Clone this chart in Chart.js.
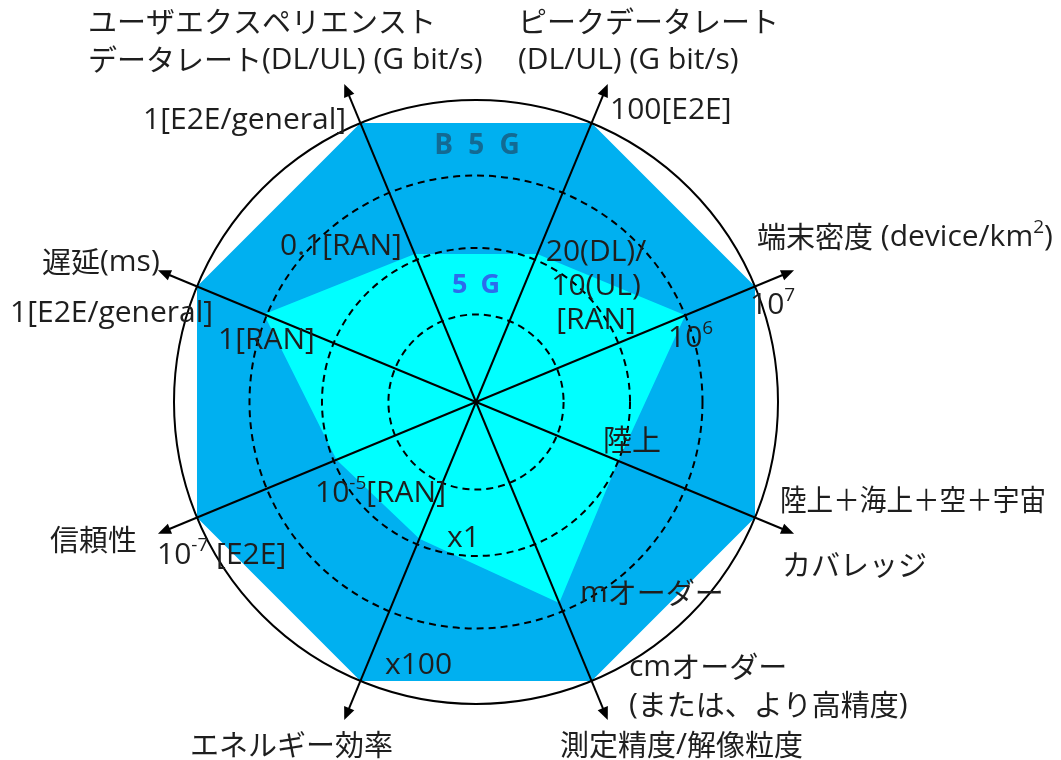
<!DOCTYPE html>
<html><head><meta charset="utf-8">
<script src="https://cdn.jsdelivr.net/npm/chart.js@4/dist/chart.umd.min.js"></script>
<style>html,body{margin:0;padding:0;background:#fff;overflow:hidden}canvas{display:block}</style>
</head><body>
<canvas id="c" width="1061" height="760"></canvas>
<script>
// ---- data ----
const categories = ["ユーザエクスペリエンストデータレート", "ピークデータレート", "端末密度", "カバレッジ", "測定精度/解像粒度", "エネルギー効率", "信頼性", "遅延"];
const seriesNames = ["B 5 G", "5 G"];
const b5gValues = [100, 100, 100, 100, 100, 100, 100, 100];
const g5Values = [53, 53, 75, 51, 72, 49, 50, 76];
const gridLevels = [0, 29, 51, 75, 100];
const axisTitles = [
  ["ユーザエクスペリエンスト", "データレート(DL/UL) (G bit/s)"],
  ["ピークデータレート", "(DL/UL) (G bit/s)"],
  ["端末密度 (device/km^{2})"],
  ["カバレッジ"],
  ["測定精度/解像粒度"],
  ["エネルギー効率"],
  ["信頼性"],
  ["遅延(ms)"]
];
const b5gTickLabels = [["1[E2E/general]"], ["100[E2E]"], ["10^{7}"], ["陸上＋海上＋空＋宇宙"], ["cmオーダー", "(または、より高精度)"], ["x100"], ["10^{-7} [E2E]"], ["1[E2E/general]"]];
const g5TickLabels = [["0.1[RAN]"], ["20(DL)/", "10(UL)", "[RAN]"], ["10^{6}"], ["陸上"], ["mオーダー"], ["x1"], ["10^{-5}[RAN]"], ["1[RAN]"]];

// ---- layout (offsets from radar centre, px) ----
const axisTitlePos = [[-388,-380],[42,-380],[281,-165],[306,163],[84,343],[-286,343],[-426,138],[-434,-140]];
const b5gTickPos = [[-333,-282],[134,-292],[274,-97],[304,98],[153,265],[-91,263],[-319,153],[-466,-89]];
const b5gTickMaxW = [0,0,0,266,0,0,0,0];
const g5TickPos = [[-196,-156],[120,-150],[192,-64],[127,38],[104,191],[-29,136],[-161,91],[-258,-62]];
const g5TickAlign = ["left","center","left","left","left","left","left","left"];
const seriesNamePos = [[0,-256],[0,-117]];
const LATIN = "'Open Sans',sans-serif";
const CJK = "'Noto Sans CJK JP',sans-serif";
const FS_LAT = 30, FS_CJK = 29, LH = 38;
const cjkRe = /[\u3000-\u30ff\u3400-\u9fff\uff00-\uffef]/;

function parseRich(s){
  const out=[]; const re=/\^\{([^}]*)\}/g; let last=0,m;
  const push=(t,sup)=>{
    let cur='', curC=null;
    for(const ch of t){ const c=cjkRe.test(ch); if(curC===null||c===curC){cur+=ch;curC=c;} else {out.push({t:cur,sup,cjk:curC}); cur=ch; curC=c;} }
    if(cur) out.push({t:cur,sup,cjk:curC});
  };
  while((m=re.exec(s))){ if(m.index>last) push(s.slice(last,m.index),false); push(m[1],true); last=re.lastIndex; }
  if(last<s.length) push(s.slice(last),false);
  return out;
}
function drawRich(ctx, s, x, y, align, color, maxW){
  const segs=parseRich(s);
  const fontOf=g=>{ const base=g.cjk?FS_CJK:FS_LAT; const sz=g.sup?Math.round(FS_LAT*0.62):base; return `400 ${sz}px ${g.cjk?CJK:LATIN}`; };
  ctx.save();
  ctx.letterSpacing="0px";
  let w=0; segs.forEach(g=>{ctx.font=fontOf(g); g.w=ctx.measureText(g.t).width; w+=g.w;});
  const k = (maxW && w>maxW) ? maxW/w : 1;
  let sx = align==="center"? x-w*k/2 : x;
  ctx.translate(sx, y); ctx.scale(k,1);
  ctx.fillStyle=color; ctx.textBaseline="middle"; ctx.textAlign="left";
  let cx=0;
  segs.forEach(g=>{ctx.font=fontOf(g); ctx.fillText(g.t,cx,g.sup? -FS_LAT*0.3 : 0); cx+=g.w;});
  ctx.restore();
}
function drawTitle(ctx, s, x, y, size, spacing, color){
  ctx.save();
  ctx.font=`700 ${size}px ${LATIN}`; ctx.fillStyle=color; ctx.textBaseline="middle"; ctx.textAlign="left";
  ctx.letterSpacing=spacing+"px";
  const w=ctx.measureText(s).width - spacing;
  ctx.fillText(s, x-w/2, y);
  ctx.letterSpacing="0px";
  ctx.restore();
}

const overlay = {
  id:'overlay',
  afterDraw(chart){
    const ctx=chart.ctx, sc=chart.scales.r;
    const cx=sc.xCenter, cy=sc.yCenter, R=sc.drawingArea;
    ctx.save();
    ctx.strokeStyle="#000"; ctx.fillStyle="#000"; ctx.lineWidth=2;
    categories.forEach((c,i)=>{
      const tip=sc.getPointPosition(i, R*1.14);
      const ang=Math.atan2(tip.y-cy, tip.x-cx);
      const L=13, H=5.5;
      ctx.beginPath(); ctx.moveTo(cx,cy);
      ctx.lineTo(tip.x-Math.cos(ang)*L*0.8, tip.y-Math.sin(ang)*L*0.8); ctx.stroke();
      ctx.beginPath(); ctx.moveTo(tip.x,tip.y);
      ctx.lineTo(tip.x-Math.cos(ang)*L - Math.sin(ang)*H, tip.y-Math.sin(ang)*L + Math.cos(ang)*H);
      ctx.lineTo(tip.x-Math.cos(ang)*L + Math.sin(ang)*H, tip.y-Math.sin(ang)*L - Math.cos(ang)*H);
      ctx.closePath(); ctx.fill();
    });
    const col="#1e1e1e";
    const block=(lines,pos,align,lh,maxW)=>{ lines.forEach((ln,k)=>drawRich(ctx,ln,cx+pos[0],cy+pos[1]+k*(lh||LH),align,col,maxW)); };
    axisTitles.forEach((t,i)=>block(t,axisTitlePos[i],"left"));
    b5gTickLabels.forEach((t,i)=>block(t,b5gTickPos[i],"left",LH,b5gTickMaxW[i]));
    g5TickLabels.forEach((t,i)=>block(t,g5TickPos[i],g5TickAlign[i], i===1?34:LH));
    drawTitle(ctx,seriesNames[0],cx+seriesNamePos[0][0]+1,cy+seriesNamePos[0][1],28,4,"#136a93");
    drawTitle(ctx,seriesNames[1],cx+seriesNamePos[1][0],cy+seriesNamePos[1][1],27,3,"#2d6cec");
    ctx.restore();
  }
};

new Chart(document.getElementById('c'), {
  type:'radar',
  data:{
    labels:categories,
    datasets:[
      {label:seriesNames[1], data:g5Values, backgroundColor:'#00ffff', borderWidth:0, pointRadius:0, fill:'origin', tension:0},
      {label:seriesNames[0], data:b5gValues, backgroundColor:'#00b0f0', borderWidth:0, pointRadius:0, fill:'origin', tension:0}
    ]
  },
  options:{
    responsive:false, devicePixelRatio:1, animation:false,
    layout:{padding:{left:174, top:100, right:283, bottom:56}},
    plugins:{legend:{display:false}, tooltip:{enabled:false}},
    scales:{r:{
      min:0, max:100, startAngle:-22.5,
      afterBuildTicks:(s)=>{ s.ticks = gridLevels.map(v=>({value:v})); },
      ticks:{display:false, z:1},
      pointLabels:{display:false},
      angleLines:{display:false},
      grid:{circular:true, color:'#000', lineWidth:2, z:1},
      border:{dash:(c)=> (c.tick && c.tick.value===100) ? [] : [7,5]}
    }}
  },
  plugins:[overlay]
});
</script>
</body></html>
